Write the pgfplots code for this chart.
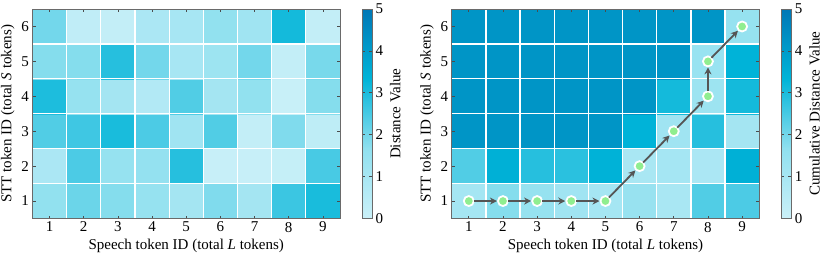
\documentclass[border=0pt]{standalone}
\usepackage{pgfplots}
\pgfplotsset{compat=1.18}
\usepackage{fontspec}
\setmainfont{Liberation Serif}
\usetikzlibrary{arrows.meta}
\definecolor{pathgray}{HTML}{555555}
\definecolor{lgreen}{HTML}{90EE90}
\definecolor{framegray}{HTML}{6A6A6A}
\newcommand{\fs}{\fontsize{15}{17}\selectfont}
\pgfplotsset{
  /pgf/number format/assume math mode=true,
  every tick label/.append style={font=\fs, text=black},
  every axis label/.append style={font=\fs},
  hm/.style={
    scale only axis, width=307.5pt, height=209.5pt,
    xmin=0.5, xmax=9.5, ymin=0.5, ymax=6.5,
    xtick={1,...,9}, ytick={1,...,6},
    minor xtick={1.5,2.5,...,8.5}, minor ytick={1.5,2.5,...,5.5},
    minor tick length=0pt,
    grid=minor, minor grid style={white, line width=1.3pt},
    major tick length=3pt, tick align=inside,
    xtick pos=both, ytick pos=both,
    xticklabel pos=lower, yticklabel pos=left,
    major tick style={color=black!70, line width=0.8pt},
    axis line style={framegray, line width=0.9pt},
    set layers=axis on top, axis on top,
    colormap={ocean}{HTML=(CAF0F8) HTML=(ADE8F4) HTML=(90E0EF) HTML=(48CAE4) HTML=(00B4D8) HTML=(0096C7) HTML=(0077B6)},
    point meta min=0, point meta max=5,
    xlabel={Speech token ID (total \textit{L} tokens)},
    ylabel={STT token ID (total \textit{S} tokens)},
    colorbar,
    colorbar style={
      at={(parent axis.north east)}, anchor=north west, xshift=13.5pt,
      width=10pt,
      ytick={0,...,5},
      tick align=inside, major tick length=3pt,
      major tick style={color=black!70, line width=0.8pt},
      axis line style={framegray, line width=0.9pt},
      yticklabel style={font=\fs, text=black},
      ylabel style={font=\fs},
    },
  },
}
\begin{document}
\begin{tikzpicture}[font=\fs]
\begin{axis}[hm, at={(0pt,0pt)}, anchor=south west,
  colorbar style={ylabel={Distance Value}}]
\addplot[matrix plot*, mesh/cols=9, point meta=explicit] table[meta=c] {
x y c
1 1 1.6
2 1 2.1
3 1 1.8
4 1 1.5
5 1 1.1
6 1 1.85
7 1 1.1
8 1 2.65
9 1 3.05
1 2 0.9
2 2 2.45
3 2 1.5
4 2 1.55
5 2 2.9
6 2 0.1
7 2 0.1
8 2 0.15
9 2 2.5
1 3 2.4
2 3 2.6
3 3 3.05
4 3 2.45
5 3 1.2
6 3 2.4
7 3 0.2
8 3 1.85
9 3 0.35
1 4 3.0
2 4 1.5
3 4 1.1
4 4 0.7
5 4 2.4
6 4 1.1
7 4 1.6
8 4 0.05
9 4 1.8
1 5 1.8
2 5 1.8
3 5 2.9
4 5 2.0
5 5 1.0
6 5 1.3
7 5 2.0
8 5 0.2
9 5 1.95
1 6 2.0
2 6 0.3
3 6 0.2
4 6 0.9
5 6 1.0
6 6 1.6
7 6 1.2
8 6 3.1
9 6 0.2
};
\end{axis}
\begin{axis}[hm, at={(419.2pt,0pt)}, anchor=south west,
  colorbar style={ylabel={Cumulative Distance Value}}]
\addplot[matrix plot*, mesh/cols=9, point meta=explicit] table[meta=c] {
x y c
1 1 1.05
2 1 1.8
3 1 1.5
4 1 1.2
5 1 1.05
6 1 1.45
7 1 0.95
8 1 2.4
9 1 2.45
1 2 2.4
2 2 3.45
3 2 2.9
4 2 2.85
5 2 3.4
6 2 0.95
7 2 1.05
8 2 0.9
9 2 3.45
1 3 4.2
2 3 4.2
3 3 4.2
4 3 4.2
5 3 4.2
6 3 3.35
7 3 1.2
8 3 2.9
9 3 1.1
1 4 4.2
2 4 4.2
3 4 4.2
4 4 4.2
5 4 4.2
6 4 4.2
7 4 3.1
8 4 1.3
9 4 3.1
1 5 4.2
2 5 4.2
3 5 4.2
4 5 4.2
5 5 4.2
6 5 4.2
7 5 4.2
8 5 1.4
9 5 3.35
1 6 4.2
2 6 4.2
3 6 4.2
4 6 4.2
5 6 4.2
6 6 4.2
7 6 4.2
8 6 4.2
9 6 1.5
};
\addplot[on layer=axis foreground, quiver={u=\thisrow{u}, v=\thisrow{v}},
  pathgray, line width=1.8pt, -{Stealth[length=7pt, width=7pt]},
  shorten <=5pt, shorten >=6pt] table {
x y u v
1 1 1 0
2 1 1 0
3 1 1 0
4 1 1 0
5 1 1 1
6 2 1 1
7 3 1 1
8 4 0 1
8 5 1 1
};
\addplot[on layer=axis foreground, only marks, mark=*, mark size=5pt,
  mark options={draw=white, fill=lgreen, line width=1.8pt}] table {
x y
1 1
2 1
3 1
4 1
5 1
6 2
7 3
8 4
8 5
9 6
};
\end{axis}
\pgfresetboundingbox
\path[use as bounding box] (-32.5pt,-39.5pt) rectangle (789.5pt,218.5pt);
\end{tikzpicture}
\end{document}
